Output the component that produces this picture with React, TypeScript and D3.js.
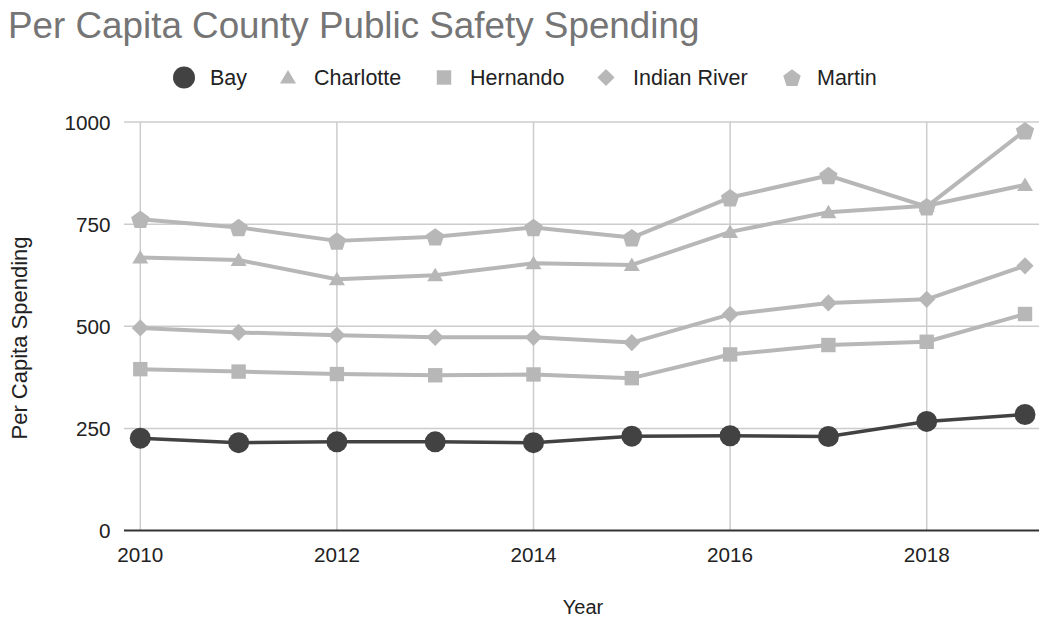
import React from "react";
import * as d3 from "d3";

const years = [2010, 2011, 2012, 2013, 2014, 2015, 2016, 2017, 2018, 2019];
const bay = [226, 215, 217, 217, 215, 231, 232, 230, 267, 284];
const charlotte = [668, 662, 615, 625, 654, 650, 731, 779, 795, 846];
const hernando = [395, 389, 383, 380, 382, 373, 431, 454, 462, 530];
const indianRiver = [496, 485, 478, 473, 473, 460, 529, 557, 566, 648];
const martin = [762, 742, 709, 719, 742, 717, 815, 869, 793, 979];
const seriesNames = ["Bay", "Charlotte", "Hernando", "Indian River", "Martin"];
const yTicks = [0, 250, 500, 750, 1000];
const xTicks = [2010, 2012, 2014, 2016, 2018];

const W = 1039;
const H = 619;
const FONT = "'Liberation Sans', Arial, sans-serif";
const DARK = "#424242";
const LIGHT = "#b7b7b7";

type Shape = "circle" | "triangle" | "square" | "diamond" | "pentagon";

function shapePath(shape: Shape, s: number): string {
  if (shape === "circle") {
    return d3.symbol().type(d3.symbolCircle).size(Math.PI * s * s)() as string;
  }
  if (shape === "square") {
    const h = s * 0.72;
    return `M${-h},${-h}L${h},${-h}L${h},${h}L${-h},${h}Z`;
  }
  if (shape === "diamond") {
    const h = s * 0.86;
    return `M0,${-h}L${h},0L0,${h}L${-h},0Z`;
  }
  if (shape === "triangle") {
    const w = s * 0.8;
    const top = -s * 0.75;
    const bot = s * 0.6;
    return `M0,${top}L${w},${bot}L${-w},${bot}Z`;
  }
  const pts: string[] = [];
  const r = s * 0.92;
  for (let i = 0; i < 5; i++) {
    const a = -Math.PI / 2 + (i * 2 * Math.PI) / 5;
    pts.push(`${(r * Math.cos(a)).toFixed(2)},${(r * Math.sin(a) + 1).toFixed(2)}`);
  }
  return "M" + pts.join("L") + "Z";
}

export default function App() {
  const x = d3.scaleLinear().domain([2010, 2019]).range([140.3, 1025]);
  const y = d3.scaleLinear().domain([0, 1000]).range([530.5, 122]);
  const plotLeft = 124;
  const plotRight = 1039;

  const series = [
    { name: seriesNames[0], values: bay, color: DARK, shape: "circle" as Shape, size: 10.5, lw: 3.5 },
    { name: seriesNames[1], values: charlotte, color: LIGHT, shape: "triangle" as Shape, size: 10, lw: 4 },
    { name: seriesNames[2], values: hernando, color: LIGHT, shape: "square" as Shape, size: 10, lw: 4 },
    { name: seriesNames[3], values: indianRiver, color: LIGHT, shape: "diamond" as Shape, size: 10, lw: 4 },
    { name: seriesNames[4], values: martin, color: LIGHT, shape: "pentagon" as Shape, size: 10.5, lw: 4 },
  ];
  const drawOrder = [4, 3, 2, 1, 0];

  const line = d3
    .line<number>()
    .x((_, i) => x(years[i]))
    .y((d) => y(d));

  const legendX = [184, 288, 444, 606, 792];
  const legendTextX = [210, 314, 470, 633, 817];
  const legendY = 77.5;

  return (
    <div style={{ position: "absolute", left: 0, top: 0, width: W, height: H, background: "#fff" }}>
      <svg width={W} height={H} style={{ display: "block", fontFamily: FONT }}>
        <rect width={W} height={H} fill="#fff" />
        <text x={8} y={38} fontSize={36.8} fill="#757575">
          Per Capita County Public Safety Spending
        </text>

        {series.map((s, i) => (
          <g key={s.name}>
            <path d={shapePath(s.shape, s.shape === "circle" ? 11 : 10)} transform={`translate(${legendX[i]},${legendY})`} fill={s.color} />
            <text x={legendTextX[i]} y={legendY + 7.5} fontSize={21.5} fill="#222">
              {s.name}
            </text>
          </g>
        ))}

        {yTicks.filter((t) => t !== 0).map((t) => (
          <line key={"gy" + t} x1={plotLeft} x2={plotRight} y1={y(t)} y2={y(t)} stroke="#cccccc" strokeWidth={1.5} />
        ))}
        {years.filter((t) => xTicks.includes(t)).map((t) => (
          <line key={"gx" + t} x1={x(t)} x2={x(t)} y1={y(1000)} y2={y(0)} stroke="#cccccc" strokeWidth={1.5} />
        ))}
        <line x1={plotLeft} x2={plotRight} y1={y(0)} y2={y(0)} stroke="#333333" strokeWidth={2} />

        {yTicks.map((t) => (
          <text key={"ty" + t} x={110.5} y={y(t) + 7.5} fontSize={20.7} fill="#222" textAnchor="end">
            {t}
          </text>
        ))}
        {xTicks.map((t) => (
          <text key={"tx" + t} x={x(t)} y={562} fontSize={20.7} fill="#222" textAnchor="middle">
            {t}
          </text>
        ))}
        <text x={583} y={614} fontSize={20} fill="#222" textAnchor="middle">
          Year
        </text>
        <text transform={`translate(26.5,338) rotate(-90)`} fontSize={22} fill="#222" textAnchor="middle">
          Per Capita Spending
        </text>

        {drawOrder.map((k) => {
          const s = series[k];
          return (
            <g key={"s" + s.name}>
              <path d={line(s.values) as string} fill="none" stroke={s.color} strokeWidth={s.lw} strokeLinejoin="round" />
              {s.values.map((v, i) => (
                <path key={i} d={shapePath(s.shape, s.size)} transform={`translate(${x(years[i])},${y(v)})`} fill={s.color} />
              ))}
            </g>
          );
        })}
      </svg>
    </div>
  );
}
